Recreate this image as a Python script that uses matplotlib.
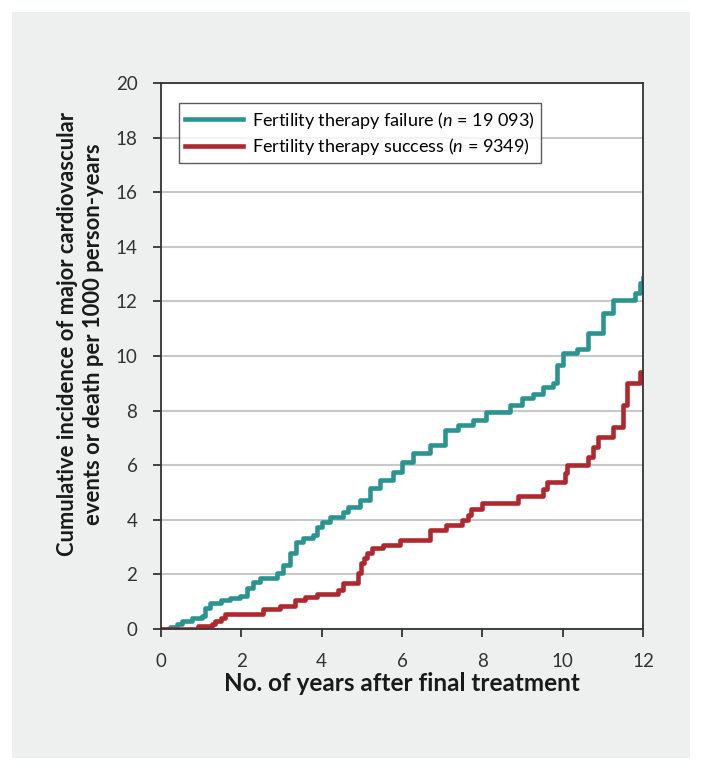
import matplotlib
matplotlib.use("Agg")
import matplotlib.pyplot as plt
from matplotlib.patches import Rectangle

plt.rcParams['font.family'] = ['Lato', 'DejaVu Sans']
plt.rcParams['mathtext.fontset'] = 'custom'
plt.rcParams['mathtext.it'] = 'Lato:italic'
plt.rcParams['mathtext.rm'] = 'Lato'

# Kaplan-Meier style curves
failure_x = [0, 0.22, 0.4, 0.52, 0.77, 1.02, 1.1, 1.22, 1.5, 1.72, 1.97, 2.13, 2.29, 2.47,
             2.88, 3.04, 3.21, 3.37, 3.54, 3.78, 3.88, 4.0, 4.2, 4.53, 4.65, 4.95, 5.2,
             5.45, 5.77, 6.0, 6.27, 6.69, 7.06, 7.39, 7.76, 8.1, 8.68, 8.98, 9.25, 9.5,
             9.75, 9.85, 10.0, 10.35, 10.62, 11.0, 11.25, 11.8, 11.92, 12.0]
failure_y = [0, 0.08, 0.18, 0.28, 0.4, 0.48, 0.77, 0.95, 1.06, 1.13, 1.2, 1.5, 1.73, 1.85,
             2.05, 2.35, 2.78, 3.19, 3.33, 3.44, 3.74, 3.92, 4.1, 4.29, 4.47, 4.72, 5.16,
             5.46, 5.75, 6.1, 6.44, 6.74, 7.29, 7.47, 7.66, 7.95, 8.2, 8.46, 8.6, 8.86,
             9.0, 9.67, 10.1, 10.25, 10.84, 11.57, 12.05, 12.3, 12.67, 12.85]

success_x = [0, 0.92, 1.27, 1.35, 1.5, 1.6, 2.55, 2.96, 3.33, 3.58, 3.88, 4.4, 4.53, 4.9,
             4.97, 5.05, 5.12, 5.25, 5.52, 5.95, 6.7, 7.1, 7.5, 7.64, 7.73, 7.98, 8.88,
             9.5, 9.6, 10.05, 10.1, 10.62, 10.75, 10.87, 11.25, 11.5, 11.6, 11.92, 12.0]
success_y = [0, 0.1, 0.2, 0.3, 0.4, 0.55, 0.73, 0.85, 1.06, 1.18, 1.3, 1.43, 1.68, 2.05,
             2.4, 2.6, 2.78, 2.97, 3.08, 3.26, 3.62, 3.8, 4.0, 4.18, 4.4, 4.6, 4.87,
             5.12, 5.4, 5.7, 6.0, 6.3, 6.67, 7.03, 7.4, 8.2, 9.0, 9.4, 9.4]

failure_label = "Fertility therapy failure ($\\it{n}$ = 19 093)"
success_label = "Fertility therapy success ($\\it{n}$ = 9349)"

fig = plt.figure(figsize=(7.03, 7.71), dpi=100)
fig.patches.append(Rectangle((12/703, 13/771), 678/703, 746/771, transform=fig.transFigure,
                             facecolor='#eeefef', edgecolor='none', zorder=-10))

ax = fig.add_axes([161/703, 142/771, 482/703, 546/771])
ax.set_facecolor('white')

ax.plot(failure_x, failure_y, drawstyle='steps-post', color='#2a9590', lw=3.3,
        label=failure_label)
ax.plot(success_x, success_y, drawstyle='steps-post', color='#b0272d', lw=3.3,
        label=success_label)

ax.set_xlim(0, 12)
ax.set_ylim(0, 20)
ax.set_xticks(range(0, 13, 2))
ax.set_yticks(range(0, 21, 2))
ax.yaxis.grid(True, color='#c8c8c8', lw=1.5)
ax.set_axisbelow(True)
for s in ax.spines.values():
    s.set_color('#333333')
    s.set_linewidth(1.3)
ax.tick_params(direction='out', length=6, width=1.3, color='#333333',
               labelsize=13.5, labelcolor='#333333', pad=11)

ax.set_xlabel("No. of years after final treatment", fontsize=17.5, fontweight='bold',
              color='#1a1a1a', labelpad=2)
ax.set_ylabel("Cumulative incidence of major cardiovascular\nevents or death per 1000 person-years",
              fontsize=15.8, fontweight='bold', color='#1a1a1a', labelpad=8, linespacing=1.3,
              y=0.54)

leg = ax.legend(loc='upper left', bbox_to_anchor=(0.037, 0.963), fontsize=13,
                frameon=True, fancybox=False, edgecolor='#333333', handlelength=3.2,
                borderpad=0.35, labelspacing=0.3, handletextpad=0.5, borderaxespad=0)
leg.get_frame().set_linewidth(1.0)

fig.savefig("out.png", dpi=100, facecolor='white')
